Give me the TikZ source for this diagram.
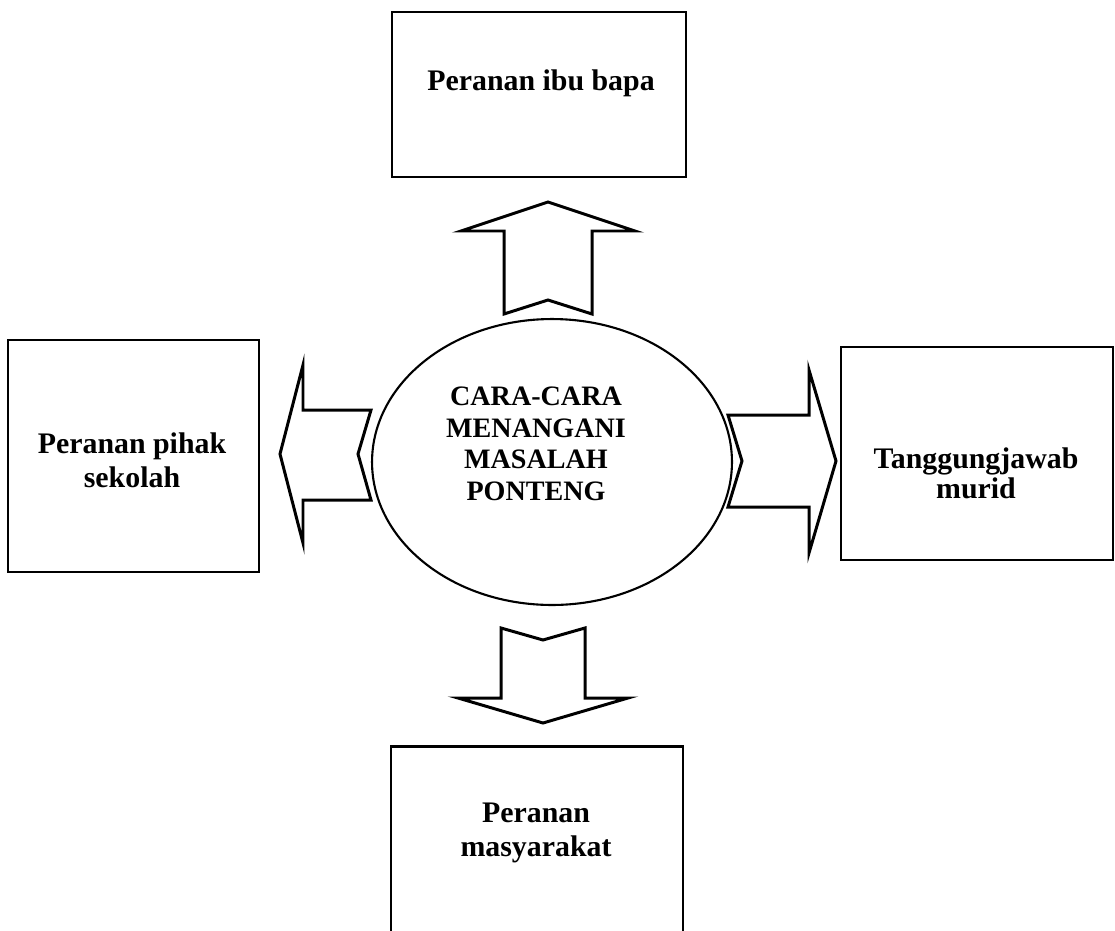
\documentclass[tikz,border=0pt]{standalone}
\usepackage{fontspec}
\setmainfont{Liberation Serif}
\usetikzlibrary{shapes.geometric}

\tikzset{
  kotak/.style={draw, line width=1.6pt, inner sep=0pt},
  tajuk/.style={font=\bfseries\fontsize{17}{19.5}\selectfont, align=center, inner sep=0pt},
  anakpanah/.style={draw, line width=1.7pt, line join=miter},
}

\begin{document}
\begin{tikzpicture}[x=0.02cm, y=-0.02cm]
    \clip (0, 0) rectangle (1115, 930);
    % kotak-kotak
    \node[kotak, minimum width=5.88cm, minimum height=3.3cm] (ibubapa) at (539, 94.5) {};
    \node[kotak, minimum width=5.02cm, minimum height=4.64cm] (sekolah) at (133.5, 456) {};
    \node[kotak, minimum width=5.44cm, minimum height=4.26cm] (murid) at (977, 453.5) {};
    \node[kotak, minimum width=5.84cm, minimum height=5cm, anchor=north] (masyarakat) at (537, 745) {};
    \node[draw, ellipse, line width=1.2pt, minimum width=7.2cm, minimum height=5.72cm, inner sep=0pt] (pusat) at (552, 462) {};
    % teks
    \node[tajuk] (t-ibubapa) at (541, 83) {Peranan ibu bapa};
    \node[tajuk] (t-sekolah) at (132, 460) {Peranan pihak\\sekolah};
    \node[tajuk] (t-murid) at (976, 473) {Tanggungjawab\\[-2.5pt]murid};
    \node[tajuk] (t-masyarakat) at (536, 833) {Peranan\\masyarakat};
    \node[tajuk, font=\bfseries\fontsize{16}{18}\selectfont] (t-pusat) at (536, 444) {CARA-CARA\\MENANGANI\\MASALAH\\PONTENG};
    % anak panah
    \draw[anakpanah, shift={(548, 202)}] (0, 0) -- (87, 29) -- (44, 29) -- (44, 112) -- (0, 98)
                    -- (-44, 112) -- (-44, 29) -- (-87, 29) -- cycle;
    \draw[anakpanah, shift={(543, 723)}] (0, 0) -- (85, -25) -- (42, -25) -- (42, -95) -- (0, -83)
                    -- (-42, -95) -- (-42, -25) -- (-85, -25) -- cycle;
    \draw[anakpanah, shift={(280, 454)}] (0, 0) -- (23, -89) -- (23, -44) -- (91, -44) -- (78, 0)
                    -- (91, 46) -- (23, 46) -- (23, 89) -- cycle;
    \draw[anakpanah, shift={(836, 461)}] (0, 0) -- (-27, -91) -- (-27, -46) -- (-108, -46) -- (-94, 0)
                    -- (-108, 46) -- (-27, 46) -- (-27, 92) -- cycle;
  \end{tikzpicture}
\end{document}
